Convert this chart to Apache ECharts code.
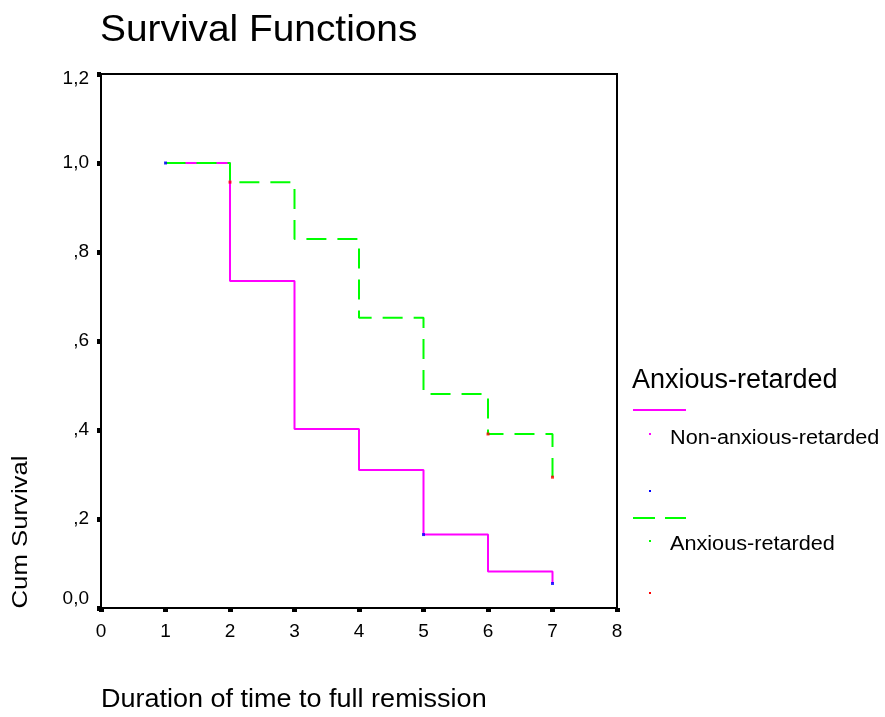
<!DOCTYPE html>
<html><head><meta charset="utf-8">
<script src="https://cdn.jsdelivr.net/npm/echarts@6/dist/echarts.min.js"></script>
<style>html,body{margin:0;padding:0;background:#fff}#c{width:885px;height:717px}</style>
</head><body><div id="c"></div>
<script>
const times = [1, 2, 3, 4, 5, 6, 7];
const nonAnxious = [1.0, 0.735, 0.402, 0.31, 0.165, 0.082, 0.055];
const anxious = [1.0, 0.957, 0.829, 0.652, 0.481, 0.391, 0.294];
const censNonAnxious = [[1, 1.0], [5, 0.165], [7, 0.055]];
const censAnxious = [[2, 0.957], [6, 0.391], [7, 0.294]];
const yTickLabels = {'0': '0,0', '0.2': ',2', '0.4': ',4', '0.6': ',6', '0.8': ',8', '1': '1,0', '1.2': '1,2'};
const seriesNames = ['Non-anxious-retarded', 'Anxious-retarded'];
const legendTitle = 'Anxious-retarded';
const chartTitle = 'Survival Functions';
const xName = 'Duration of time to full remission';
const yName = 'Cum Survival';

const chart = echarts.init(document.getElementById('c'));
const font = '"Liberation Sans", Arial, sans-serif';
function txt(text, x, y, size, sx, extra) {
  return Object.assign({type: 'text', x: x, y: y, scaleX: sx || 1,
    style: {text: text, font: size + 'px ' + font, fill: '#000', align: 'left', verticalAlign: 'middle'}}, extra || {});
}
chart.setOption({
  animation: false,
  grid: {left: 101, top: 74, width: 516, height: 534, show: true, borderColor: '#000', borderWidth: 2},
  xAxis: {type: 'value', min: 0, max: 8, interval: 1,
    axisLine: {lineStyle: {color: '#000', width: 2}},
    axisTick: {length: 4, lineStyle: {color: '#000', width: 5}},
    axisLabel: {fontFamily: font, fontSize: 19, color: '#000', margin: 14, formatter: v => String(v)},
    splitLine: {show: false}},
  yAxis: {type: 'value', min: 0, max: 1.2, interval: 0.2,
    axisLine: {lineStyle: {color: '#000', width: 2}},
    axisTick: {length: 4, lineStyle: {color: '#000', width: 5}},
    axisLabel: {fontFamily: font, fontSize: 19, color: '#000', margin: 12,
      formatter: v => {
        const k = String(Math.round(v * 10) / 10);
        const s = yTickLabels[k] || '';
        if (k === '1.2') return '{lo|' + s + '}';
        if (k === '0') return '{hi|' + s + '}';
        return s;
      },
      rich: {
        lo: {fontFamily: font, fontSize: 19, color: '#000', padding: [9, 0, 0, 0]},
        hi: {fontFamily: font, fontSize: 19, color: '#000', padding: [0, 0, 18, 0]}
      }},
    splitLine: {show: false}},
  series: [
    {name: seriesNames[0], type: 'line', step: 'end', symbol: 'none',
      data: times.map((t, i) => [t, nonAnxious[i]]),
      lineStyle: {color: '#ff00ff', width: 2}},
    {name: seriesNames[1], type: 'line', step: 'end', symbol: 'none',
      data: times.map((t, i) => [t, anxious[i]]),
      lineStyle: {color: '#00ff00', width: 2, type: [20, 11]}},
    {type: 'scatter', data: censNonAnxious, symbol: 'rect', symbolSize: 3, itemStyle: {color: '#0000ff'}, z: 5},
    {type: 'scatter', data: censAnxious, symbol: 'rect', symbolSize: 3, itemStyle: {color: '#ff0000'}, z: 5}
  ],
  graphic: [
    txt(chartTitle, 100, 31, 37, 1.05),
    txt(xName, 101, 700, 25, 1.08),
    {type: 'text', x: 21, y: 532, rotation: Math.PI / 2, scaleX: 1.17,
      style: {text: yName, font: '22px ' + font, fill: '#000', align: 'center', verticalAlign: 'middle'}},
    txt(legendTitle, 632, 381, 27, 1),
    {type: 'line', shape: {x1: 633, y1: 410, x2: 686, y2: 410}, style: {stroke: '#ff00ff', lineWidth: 2}},
    {type: 'rect', shape: {x: 649, y: 433, width: 2, height: 2}, style: {fill: '#ff00ff'}},
    txt(seriesNames[0], 670, 439, 19.5, 1.11),
    {type: 'rect', shape: {x: 649, y: 490, width: 2, height: 2}, style: {fill: '#0000ff'}},
    {type: 'line', shape: {x1: 633, y1: 518, x2: 686, y2: 518}, style: {stroke: '#00ff00', lineWidth: 2, lineDash: [22, 10]}},
    {type: 'rect', shape: {x: 649, y: 540, width: 2, height: 2}, style: {fill: '#00ff00'}},
    txt(seriesNames[1], 670, 545, 19.5, 1.11),
    {type: 'rect', shape: {x: 649, y: 592, width: 2, height: 2}, style: {fill: '#ff0000'}}
  ]
});
</script></body></html>
